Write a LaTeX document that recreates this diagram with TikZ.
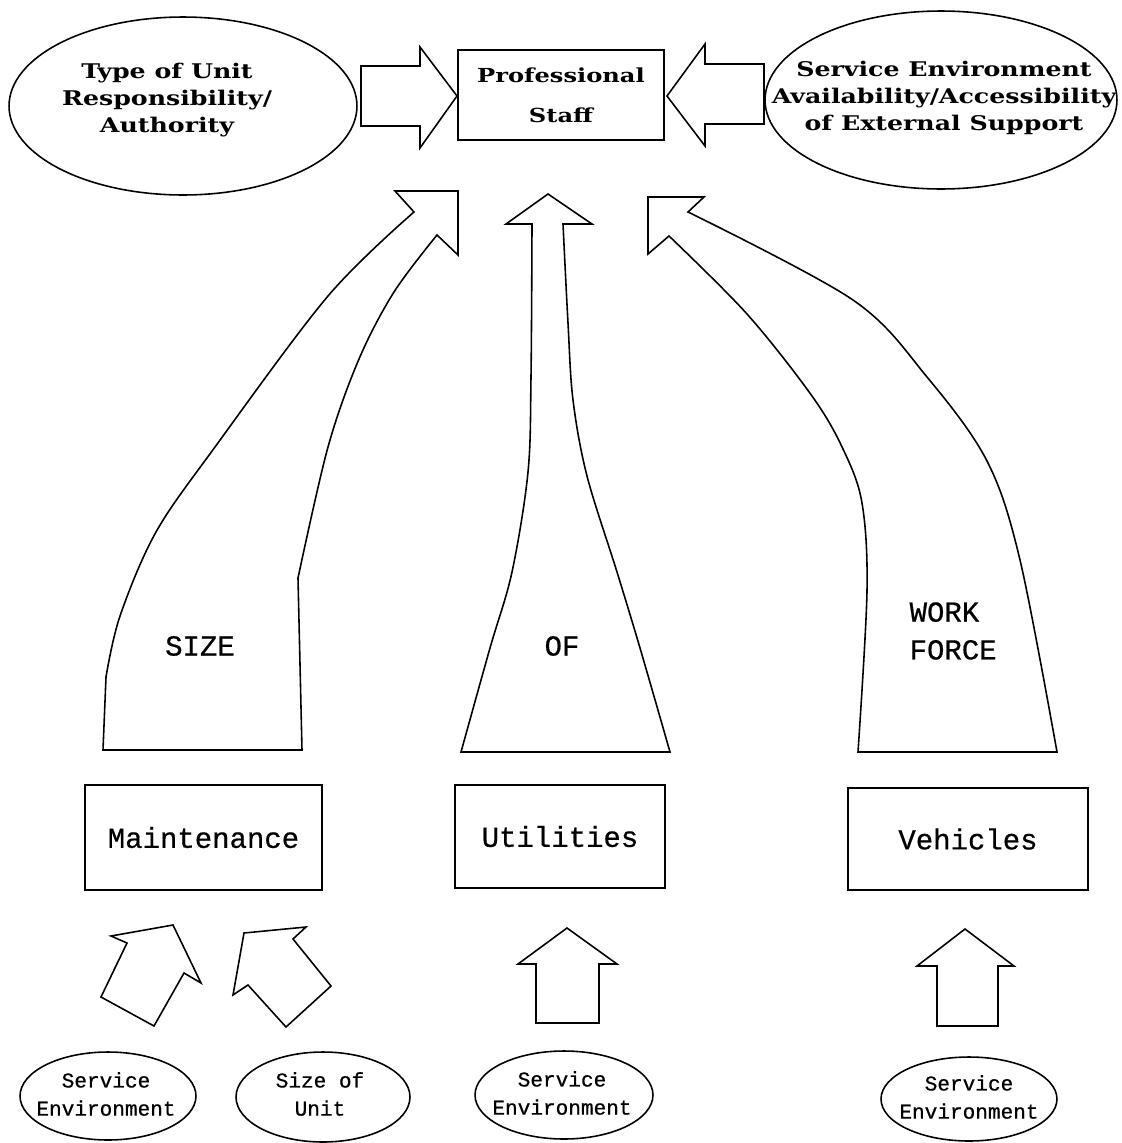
\documentclass[tikz,border=0pt]{standalone}
\usepackage{fontspec}
\setmainfont{DejaVu Serif}
\newfontfamily\headfont[FakeStretch=1.25]{DejaVu Serif Bold}
\newfontfamily\typefont[FakeBold=0.6]{Liberation Mono}
\usetikzlibrary{shapes.geometric}

\begin{document}
\begin{tikzpicture}[x=0.02cm, y=-0.02cm, line width=0.9pt, line join=miter,
  oval/.style={draw, ellipse, inner sep=0pt},
  boxnode/.style={draw, rectangle, inner sep=0pt},
  blockarrow/.style={draw, fill=white},
  headtext/.style={align=center, font=\headfont\fontsize{11.5}{15.6}\selectfont},
  bigtype/.style={align=left, font=\typefont\fontsize{16.5}{21.5}\selectfont},
  smalltype/.style={align=center, font=\typefont\fontsize{12}{16}\selectfont}]

\useasboundingbox (0,0) rectangle (1122,1143);

% ---------- top row ----------
\node[oval, minimum width=6.96cm, minimum height=3.56cm] (unit) at (183,106) {};
\node[headtext] (unitT) at (167,100)
  {Type of Unit\\Responsibility/\\Authority};

\node[boxnode, minimum width=4.12cm, minimum height=1.8cm,
      headtext, font=\headfont\fontsize{11}{22.7}\selectfont] (staff) at (561,95)
  {Professional\\Staff};

\node[oval, minimum width=7.04cm, minimum height=3.56cm] (env) at (941,100) {};
\node[headtext] (envT) at (944,98)
  {Service Environment\\Availability/Accessibility\\of External Support};

% side arrows into the staff box
\draw[blockarrow] (361,66) -- (420,66) -- (420,47) -- (457,96) -- (420,148)
  -- (420,126) -- (361,126) -- cycle;
\draw[blockarrow] (764,64) -- (705,64) -- (705,44) -- (667,96) -- (705,146)
  -- (705,124) -- (764,124) -- cycle;

% ---------- the three sweeping arrows ----------
% SIZE
\draw[blockarrow] (103,750) -- (106,677)
  -- plot[smooth, tension=0.55] coordinates {(106,677) (120,616) (156,532) (215,447) (328,296) (414,212)}
  -- (395,191) -- (458,191) -- (458,255) -- (437,235)
  -- plot[smooth, tension=0.55] coordinates {(437,235) (394,292) (359,359) (328,447) (298,578)}
  -- (302,750) -- cycle;
\node[bigtype] (sizeT) at (200,646) {SIZE};

% OF
\draw[blockarrow]
  plot[smooth, tension=0.55] coordinates {(461,752) (490,648) (512,572) (528,472) (531,377) (532,224)}
  -- (506,224) -- (548,194) -- (592,224) -- (563,224)
  -- plot[smooth, tension=0.55] coordinates {(563,224) (568,323) (573,400) (587,476) (617,572) (640,648) (670,752)}
  -- cycle;
\node[bigtype] (ofT) at (562,646) {OF};

% WORK FORCE
\draw[blockarrow]
  plot[smooth, tension=0.55] coordinates {(858,752) (867,591) (862,503) (843,449) (812,396) (747,314) (669,236)}
  -- (648,254) -- (648,197) -- (704,197) -- (688,212)
  -- plot[smooth, tension=0.55] coordinates {(688,212) (853,300) (927,377) (987,461) (1020,560) (1057,752)}
  -- cycle;
\node[bigtype, anchor=west] (workT) at (903,631) {WORK\\FORCE};

% ---------- cost centres ----------
\node[boxnode, minimum width=4.74cm, minimum height=2.1cm, bigtype] (maint) at (203.5,837.5) {Maintenance};
\node[boxnode, minimum width=4.2cm, minimum height=2.06cm, bigtype] (util) at (560,836.5) {Utilities};
\node[boxnode, minimum width=4.8cm, minimum height=2.04cm, bigtype] (veh) at (968,839) {Vehicles};

% ---------- bottom arrows ----------
\draw[blockarrow] (111,936) -- (173,925) -- (201,983) -- (184,973) -- (154,1026)
  -- (101,997) -- (127,943) -- cycle;
\draw[blockarrow] (244,933) -- (306,927) -- (293,939) -- (331,986) -- (286,1027)
  -- (248,985) -- (233,995) -- cycle;
\draw[blockarrow] (567,928) -- (617,964) -- (599,964) -- (599,1023) -- (536,1023)
  -- (536,964) -- (518,964) -- cycle;
\draw[blockarrow] (965,929) -- (1014,966) -- (998,966) -- (998,1026) -- (937,1026)
  -- (937,966) -- (917,966) -- cycle;

% ---------- bottom sources ----------
\node[oval, minimum width=3.52cm, minimum height=1.76cm] (se1) at (108,1096) {};
\node[smalltype] (se1T) at (106,1094) {Service\\Environment};
\node[oval, minimum width=3.48cm, minimum height=1.8cm] (su) at (323,1097) {};
\node[smalltype] (suT) at (320,1094) {Size of\\Unit};
\node[oval, minimum width=3.56cm, minimum height=1.76cm] (se2) at (564,1095) {};
\node[smalltype] (se2T) at (562,1093) {Service\\Environment};
\node[oval, minimum width=3.52cm, minimum height=1.68cm] (se3) at (969,1099) {};
\node[smalltype] (se3T) at (969,1097) {Service\\Environment};

\end{tikzpicture}
\end{document}
